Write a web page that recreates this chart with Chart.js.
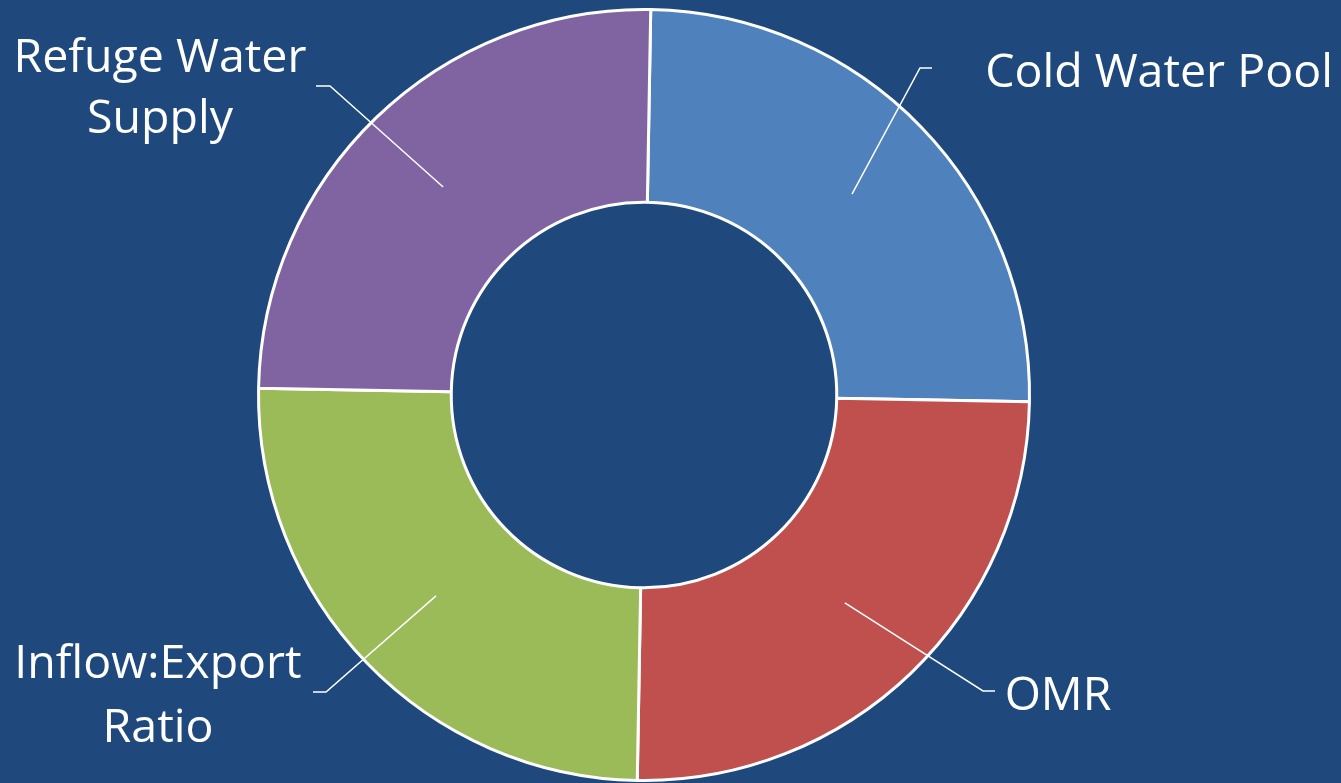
<!DOCTYPE html>
<html>
<head>
<meta charset="utf-8">
<script src="https://cdn.jsdelivr.net/npm/chart.js@4"></script>
<style>
  html, body { margin: 0; padding: 0; background: #1F497D; }
  #wrap { width: 1341px; height: 783px; }
</style>
</head>
<body>
<div id="wrap"><canvas id="donut"></canvas></div>
<script>
// data
const categories = ["Cold Water Pool", "OMR", "Inflow:Export Ratio", "Refuge Water Supply"];
const shares = [25, 25, 25, 25];
const sliceColors = ["#4F81BD", "#C0504D", "#9BBB59", "#8064A2"];

// label text lines, anchor (elbow) point and text position
const labelSetup = [
    { lines: ["Cold Water Pool"], elbow: [920, 68], end: [932, 68], x: 1159, y: [87] },
    { lines: ["OMR"], elbow: [983, 691], end: [995, 691], x: 1058, y: [710] },
    { lines: ["Inflow:Export", "Ratio"], elbow: [326, 692], end: [313, 692], x: 158, y: [678, 742] },
    { lines: ["Refuge Water", "Supply"], elbow: [330, 86], end: [316, 86], x: 160, y: [72, 133] }
];

const calloutPlugin = {
    id: "callouts",
    afterDatasetsDraw(chart) {
        const ctx = chart.ctx;
        const arcs = chart.getDatasetMeta(0).data;
        ctx.save();
        ctx.strokeStyle = "#FFFFFF";
        ctx.lineWidth = 1.5;
        arcs.forEach((arc, i) => {
            const p = arc.tooltipPosition();
            const s = labelSetup[i];
            ctx.beginPath();
            ctx.moveTo(p.x, p.y);
            ctx.lineTo(s.elbow[0], s.elbow[1]);
            ctx.lineTo(s.end[0], s.end[1]);
            ctx.stroke();
        });
        ctx.fillStyle = "#FFFFFF";
        ctx.textAlign = "center";
        ctx.textBaseline = "alphabetic";
        ctx.font = "46.5px 'Open Sans'";
        labelSetup.forEach(s => {
            s.lines.forEach((t, k) => ctx.fillText(t, s.x, s.y[k]));
        });
        ctx.restore();
    }
};

new Chart(document.getElementById("donut"), {
    type: "doughnut",
    data: {
        labels: categories,
        datasets: [{
            data: shares,
            backgroundColor: sliceColors,
            borderColor: "#FFFFFF",
            borderWidth: 3
        }]
    },
    options: {
        responsive: true,
        maintainAspectRatio: false,
        animation: false,
        rotation: 1,
        cutout: "50%",
        layout: { padding: { top: 8, bottom: 1, left: 257, right: 310 } },
        plugins: {
            legend: { display: false },
            tooltip: { enabled: false }
        }
    },
    plugins: [calloutPlugin]
});
</script>
</body>
</html>
